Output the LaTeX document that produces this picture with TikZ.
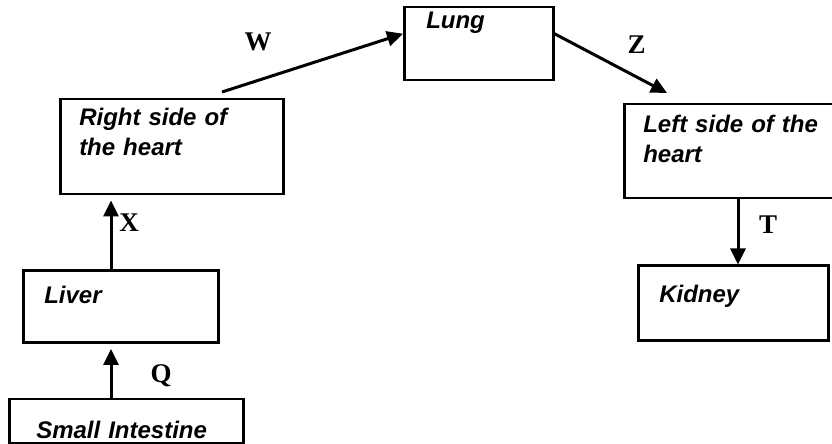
\documentclass[tikz,border=0pt]{standalone}
\usepackage{fontspec}
\setmainfont{Liberation Serif}
\newfontfamily\boxfont{Liberation Sans}
\usetikzlibrary{arrows.meta,positioning}

\begin{document}
\begin{tikzpicture}[x=1pt,y=1pt,
  bx/.style={draw,line width=2.5pt,inner ysep=0pt,align=left,
    font=\boxfont\bfseries\itshape\fontsize{24}{30}\selectfont},%
  e/.style={-{Triangle[length=16pt,width=15pt]},line width=3pt},%
  lb/.style={font=\bfseries\fontsize{27}{30}\selectfont,inner sep=0pt},%
  ]
  \useasboundingbox (0,0) rectangle (832,444);

  \node (small) [bx,anchor=north west,
  inner xsep=27pt,text width=180pt,text height=39pt,text depth=5pt,
  ] at (8,46) {Small Intestine};

  \node (liver) [bx,
  above=54pt of small.north west,anchor=south west,xshift=14pt,
  inner xsep=21pt,text width=153pt,text height=33pt,text depth=39pt,
  ] {Liver};

  \node (rheart) [bx,
  above=74pt of liver.north west,anchor=south west,xshift=37pt,
  inner xsep=19pt,text width=185pt,text height=26pt,text depth=69pt,
  ] {Right side of\\the heart};

  \node (lung) [bx,anchor=north west,
  inner xsep=22pt,text width=105pt,text height=21pt,text depth=52pt,
  ] at (403,438) {Lung};

  \node (lheart) [bx,anchor=north west,
  inner xsep=19pt,text width=185pt,text height=28pt,text depth=66pt,
  ] at (623,341) {Left side of the\\heart};

  \node (kidney) [bx,
  below=65pt of lheart.south west,anchor=north west,xshift=14pt,
  inner xsep=21pt,text width=148pt,text height=37pt,text depth=38pt,
  ] {Kidney};

  \draw [e] ([xshift=103pt]small.north west) -- ([xshift=89pt,yshift=-5pt]liver.south west)
  node [lb,pos=0.45,xshift=50pt] {Q};
  \draw [e] ([xshift=89pt]liver.north west) -- ([xshift=52pt,yshift=-5pt]rheart.south west)
  node [lb,pos=0.68,xshift=18pt] {X};
  \draw [e] ([xshift=163pt,yshift=6pt]rheart.north west) -- ([yshift=10pt]lung.west)
  node [lb,pos=0.2,yshift=38pt] {W};
  \draw [e] ([yshift=10pt]lung.east) -- ([xshift=44pt,yshift=10pt]lheart.north west)
  node [lb,pos=0.73,yshift=32pt] {Z};
  \draw [e] ([xshift=115pt]lheart.south west) -- ([xshift=101pt]kidney.north west)
  node [lb,pos=0.38,xshift=30pt] {T};
\end{tikzpicture}
\end{document}
